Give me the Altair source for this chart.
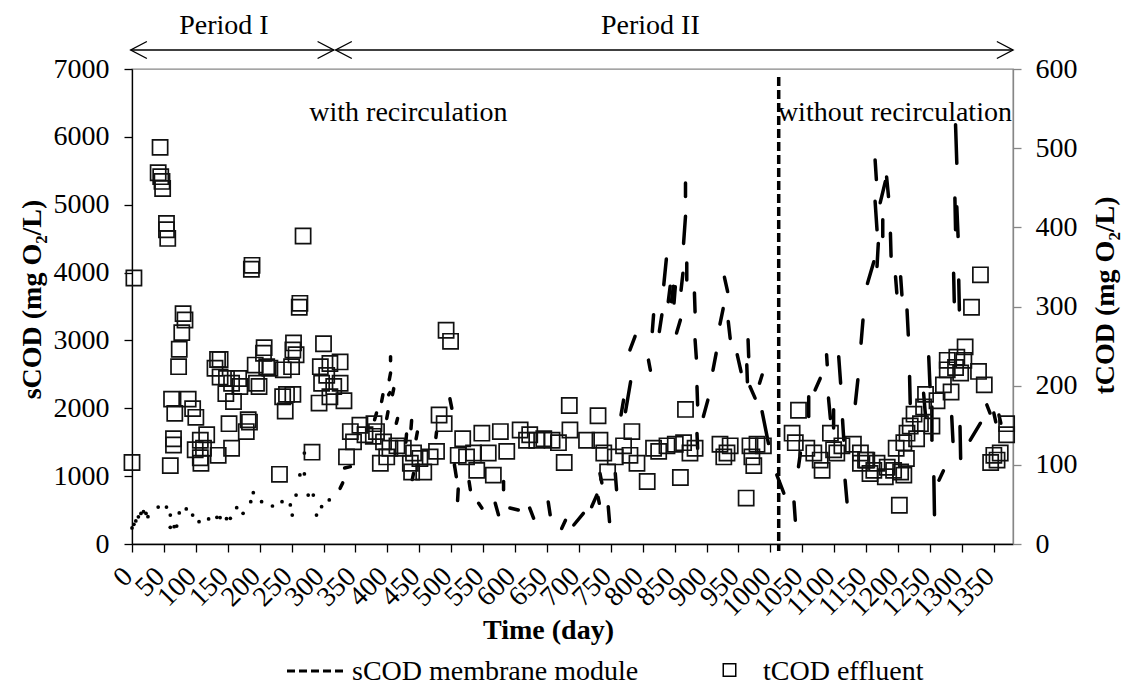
import altair as alt
import pandas as pd

FONT = "Liberation Serif"

# ---------------- axes ----------------
DAY_TICKS = list(range(0, 1351, 50))
SCOD_TICKS = list(range(0, 7001, 1000))
TCOD_TICKS = list(range(0, 601, 100))

# ---------------- tCOD effluent (right axis, squares) ----------------
TCOD_DAY = [3, 0, 44, 41, 45, 47, 48, 54, 54, 56, 268, 188, 187, 263, 262, 80, 83, 78, 74, 73,
            300, 207, 206, 253, 252, 257, 211, 193, 250, 237, 134, 138, 130, 138, 148, 167, 156, 169, 147, 159,
            195, 199, 216, 295, 310, 326, 305, 297, 316, 326, 310, 332, 293, 62, 88, 67, 95, 100, 236, 242,
            252, 240, 182, 184, 152, 179, 65, 65, 60, 107, 117, 112, 107, 99, 135, 156, 231, 282, 342, 357,
            347, 336, 365, 108, 492, 499, 481, 489, 379, 383, 378, 394, 404, 415, 389, 399, 425, 441, 436, 451,
            457, 477, 467, 438, 518, 511, 524, 535, 548, 577, 558, 566, 540, 587, 608, 623, 634, 645, 658, 668,
            686, 677, 685, 730, 712, 733, 739, 745, 757, 618, 783, 770, 780, 791, 807, 817, 825, 838, 851, 864,
            874, 882, 867, 859, 921, 937, 927, 932, 968, 979, 989, 971, 974, 962, 1044, 1034, 1039, 1057, 1068, 1078,
            1081, 1094, 1099, 1104, 1112, 1130, 1141, 1149, 1156, 1329, 1315, 1305, 1292, 1277, 1303, 1290, 1298, 1277, 1326, 1335,
            1271, 1283, 1261, 1243, 1240, 1225, 1219, 1235, 1253, 1214, 1229, 1209, 1197, 1213, 1350, 1355, 1345, 1360, 1370, 1370,
            1202, 1151, 1167, 1162, 1183, 1193, 1204, 1209, 1180, 1141]
TCOD_VAL = [336, 103, 501, 469, 464, 458, 449, 405, 397, 386, 389, 352, 347, 304, 299, 291, 283, 267, 246, 224,
            253, 248, 241, 254, 245, 239, 224, 226, 224, 220, 233, 233, 222, 211, 209, 209, 203, 199, 190, 180,
            203, 199, 222, 224, 228, 230, 213, 203, 199, 203, 186, 181, 178, 183, 183, 165, 171, 160, 186, 189,
            189, 168, 157, 154, 152, 142, 133, 125, 99, 131, 138, 121, 109, 119, 112, 121, 88, 116, 142, 150,
            129, 110, 138, 102, 270, 256, 163, 152, 152, 142, 136, 129, 121, 124, 102, 110, 121, 115, 102, 108,
            91, 117, 110, 91, 133, 112, 110, 115, 140, 142, 115, 87, 93, 117, 144, 138, 131, 133, 131, 128,
            144, 103, 175, 162, 131, 131, 115, 91, 110, 131, 142, 124, 112, 102, 79, 121, 117, 124, 126, 128,
            115, 121, 170, 84, 126, 124, 110, 115, 124, 126, 124, 110, 99, 58, 169, 140, 128, 121, 115, 106,
            93, 140, 119, 115, 124, 126, 115, 106, 89, 340, 299, 249, 236, 232, 232, 223, 216, 220, 218, 201,
            201, 192, 181, 189, 173, 164, 149, 152, 149, 140, 133, 128, 121, 108, 112, 106, 103, 115, 152, 138,
            49, 106, 102, 93, 97, 93, 91, 87, 85, 102]

# ---------------- sCOD membrane module (left axis, dashed line) ----------------
# early dotted part
DOT_DAY = [0, 3, 6, 10, 14, 18, 22, 25, 41, 54, 60, 60, 66, 70, 74, 85, 95, 105, 120, 133,
           138, 148, 154, 164, 174, 186, 190, 203, 220, 235, 248, 251, 257, 263, 270, 270, 276, 284, 289, 297, 309]
DOT_VAL = [236, 290, 340, 400, 450, 476, 450, 403, 545, 545, 427, 246, 255, 265, 457, 516, 427, 329, 369, 393,
           390, 373, 379, 535, 452, 624, 756, 624, 560, 624, 575, 427, 722, 1017, 1032, 1340, 722, 722, 427, 550, 649]
# visible dash pieces: start day, start value, end day, end value
SEG_DAY0 = [326, 333, 380, 391, 399, 402, 408, 403, 405, 414, 429, 437, 445, 439, 476, 498, 505, 511, 528, 543,
            569, 582, 592, 623, 652, 673, 692, 720, 733, 730, 746, 757, 766, 773, 780, 809, 815, 826, 833, 840,
            845, 849, 853, 860, 864, 867, 869, 881, 882, 885, 885, 895, 910, 921, 928, 934, 948, 965, 963, 968,
            983, 987, 1010, 1037, 1044, 1060, 1070, 1088, 1091, 1099, 1107, 1113, 1117, 1133, 1142, 1152, 1164, 1164, 1167, 1172,
            1176, 1182, 1188, 1196, 1204, 1214, 1218, 1240, 1248, 1253, 1256, 1264, 1284, 1297, 1313, 1287, 1295, 1289, 1290, 1292,
            1339, 1350, 1358]
SEG_VAL0 = [820, 1120, 1830, 2100, 1850, 2200, 2200, 2420, 2700, 1780, 1500, 1700, 1550, 950, 1570, 2140, 1170, 810, 920, 600,
            600, 920, 530, 530, 620, 230, 280, 550, 1040, 690, 550, 1040, 1900, 1950, 2860, 2710, 3130, 3130, 3820, 3570,
            3570, 3550, 3110, 3740, 4430, 5320, 4140, 3700, 3010, 2320, 1630, 1880, 2560, 3240, 3930, 3280, 2790, 3010, 2640, 2320,
            2370, 1950, 1020, 620, 1140, 2170, 2270, 2790, 2150, 1980, 2760, 1830, 940, 2070, 2960, 3840, 5050, 5660, 4090, 5030,
            4780, 5410, 4580, 3940, 3940, 3450, 2470, 2220, 2760, 2020, 990, 940, 1880, 1730, 1530, 3990, 3890, 5100, 6180, 4970,
            2050, 1930, 1900]
SEG_DAY1 = [330, 342, 383, 393, 401, 404, 410, 405, 405, 416, 430, 438, 447, 441, 477, 501, 508, 510, 530, 548,
            574, 582, 605, 629, 655, 679, 707, 728, 736, 732, 748, 759, 770, 781, 788, 812, 817, 830, 837, 843,
            848, 851, 859, 863, 867, 867, 869, 882, 884, 886, 886, 902, 915, 926, 933, 937, 954, 966, 964, 976,
            987, 997, 1021, 1039, 1047, 1060, 1078, 1089, 1094, 1099, 1110, 1115, 1120, 1137, 1145, 1162, 1167, 1166, 1169, 1180,
            1176, 1185, 1189, 1198, 1206, 1216, 1219, 1243, 1250, 1253, 1257, 1271, 1286, 1298, 1329, 1288, 1296, 1290, 1292, 1294,
            1344, 1353, 1361]
SEG_VAL1 = [900, 1140, 1930, 2200, 1950, 2230, 2290, 2520, 2760, 1850, 1620, 1820, 1650, 1040, 1650, 2000, 990, 640, 800, 530,
            430, 800, 500, 380, 430, 350, 450, 720, 900, 600, 330, 800, 2120, 2390, 3060, 2560, 3380, 3380, 4200, 3800,
            3800, 3790, 3300, 3990, 4830, 5120, 3890, 3420, 2740, 2050, 1410, 2120, 2810, 3470, 3720, 3030, 2540, 2760, 2390, 2150,
            2490, 1480, 750, 350, 1340, 1880, 2440, 2640, 1850, 1710, 2370, 1530, 620, 2420, 3300, 4160, 4630, 5370, 4430, 5340,
            4530, 5120, 4240, 3700, 3670, 3080, 2070, 1880, 2320, 1530, 430, 1080, 1510, 1260, 1780, 3570, 3450, 4630, 5610, 4530,
            1930, 1800, 1780]

SWITCH_DAY = [1013]
PERIOD_LABELS = ["Period I", "Period II"]
PERIOD_LABEL_DAY = [144, 812]
PERIOD_START = [-2, 319]
PERIOD_END = [316, 1380]
PHASE_LABELS = ["with recirculation", "without recirculation"]
PHASE_DAY = [433, 1195]
PHASE_SCOD = [6235, 6235]
LEGEND_LABELS = ["sCOD membrane module", "tCOD effluent"]

# ---------------- tables ----------------
tcod_df = pd.DataFrame({"day": TCOD_DAY, "tcod": TCOD_VAL})
dots_df = pd.DataFrame({"day": DOT_DAY, "scod": DOT_VAL})
rows = []
for i, (d0, v0, d1, v1) in enumerate(zip(SEG_DAY0, SEG_VAL0, SEG_DAY1, SEG_VAL1)):
    rows.append({"seg": i, "day": d0, "scod": v0, "k": 0})
    rows.append({"seg": i, "day": d1, "scod": v1, "k": 1})
seg_df = pd.DataFrame(rows)
phase_df = pd.DataFrame({"day": PHASE_DAY, "scod": PHASE_SCOD, "label": PHASE_LABELS})
switch_df = pd.DataFrame({"day": SWITCH_DAY})
period_df = pd.DataFrame({"day": PERIOD_START, "day2": PERIOD_END})
period_lbl_df = pd.DataFrame({"day": PERIOD_LABEL_DAY, "label": PERIOD_LABELS})
left_tip_df = pd.DataFrame({"day": PERIOD_START})
right_tip_df = pd.DataFrame({"day": PERIOD_END})

X = alt.X(
    "day:Q",
    scale=alt.Scale(domain=[0, 1380], nice=False, zero=False),
    axis=alt.Axis(
        values=DAY_TICKS, format="d", title="Time (day)", labelAngle=315, labelAlign="right",
        labelBaseline="middle", labelPadding=20, labelOffset=-4, labelOverlap=False,
        labelFlush=False, labelBound=False, titleX=416, titleY=86, titleBaseline="middle",
        titleAnchor="start", titleAlign="center",
    ),
)
X2 = alt.X2("day2:Q")

Y_LEFT = alt.Y(
    "scod:Q",
    scale=alt.Scale(domain=[0, 7000], nice=False, zero=True),
    axis=alt.Axis(
        orient="left", values=SCOD_TICKS, format="d", title="sCOD (mg O₂/L)", labelPadding=15,
        titleAngle=270, titleX=-100, titleY=230, titleBaseline="middle", titleAlign="center",
        titleAnchor="start",
    ),
)
Y_RIGHT = alt.Y(
    "tcod:Q",
    scale=alt.Scale(domain=[0, 600], nice=False, zero=True),
    axis=alt.Axis(
        orient="right", values=TCOD_TICKS, format="d", title="tCOD (mg O₂/L)", labelPadding=14,
        domainColor="#868686", tickColor="#868686",
        titleAngle=270, titleX=92, titleY=226, titleBaseline="middle", titleAlign="center",
        titleAnchor="start",
    ),
)

segs = alt.Chart(seg_df).mark_line(color="black", strokeWidth=3.5, strokeCap="round").encode(
    x=X, y=Y_LEFT, detail="seg:N", order="k:Q"
)
dots = alt.Chart(dots_df).mark_circle(color="black", size=14, opacity=1).encode(x=X, y=Y_LEFT)
phase_txt = alt.Chart(phase_df).mark_text(
    font=FONT, fontSize=28, color="black", align="center", baseline="alphabetic"
).encode(x=X, y=Y_LEFT, text="label:N")
switch = alt.Chart(switch_df).mark_rule(color="black", strokeWidth=3.5, strokeDash=[9, 4]).encode(
    x=X, y=alt.value(8), y2=alt.value(482)
)
left_layer = alt.layer(segs, dots, phase_txt, switch)

squares = alt.Chart(tcod_df).mark_point(
    shape="square", filled=False, color="#111111", size=230, strokeWidth=1.7, opacity=1
).encode(x=X, y=Y_RIGHT)

period_line = alt.Chart(period_df).mark_rule(color="black", strokeWidth=1.4).encode(
    x=X, x2=X2, y=alt.value(-19)
)
left_tips = alt.Chart(left_tip_df).mark_point(
    shape="M1.9,-1L0,0L1.9,1", filled=False, color="black", size=289, strokeWidth=1.4, opacity=1
).encode(x=X, y=alt.value(-19))
right_tips = alt.Chart(right_tip_df).mark_point(
    shape="M-1.9,-1L0,0L-1.9,1", filled=False, color="black", size=289, strokeWidth=1.4, opacity=1
).encode(x=X, y=alt.value(-19))
period_txt = alt.Chart(period_lbl_df).mark_text(
    font=FONT, fontSize=28, color="black", align="center", baseline="alphabetic"
).encode(x=X, y=alt.value(-35), text="label:N")

one = pd.DataFrame({"label": [LEGEND_LABELS[0]]})
two = pd.DataFrame({"label": [LEGEND_LABELS[1]]})
leg_line = alt.Chart(one).mark_rule(color="black", strokeWidth=3, strokeDash=[8, 4]).encode(
    x=alt.value(155), x2=alt.value(215), y=alt.value(602)
)
leg_txt1 = alt.Chart(one).mark_text(
    font=FONT, fontSize=28, color="black", align="left", baseline="alphabetic"
).encode(x=alt.value(220), y=alt.value(611), text="label:N")
leg_sq = alt.Chart(two).mark_point(
    shape="square", filled=False, color="black", size=156, strokeWidth=1.5, opacity=1
).encode(x=alt.value(597.5), y=alt.value(601))
leg_txt2 = alt.Chart(two).mark_text(
    font=FONT, fontSize=28, color="black", align="left", baseline="alphabetic"
).encode(x=alt.value(631), y=alt.value(611), text="label:N")

chart = alt.layer(
    left_layer, squares, period_line, left_tips, right_tips, period_txt,
    leg_line, leg_txt1, leg_sq, leg_txt2,
).resolve_scale(y="independent").properties(
    width=881, height=475,
    autosize=alt.AutoSizeParams(type="none"),
    padding={"left": 132, "top": 69, "right": 110, "bottom": 142},
).configure_view(
    stroke="#868686", strokeWidth=1.3
).configure_axis(
    labelFont=FONT, labelFontSize=28, labelColor="black",
    titleFont=FONT, titleFontSize=28, titleFontWeight="bold", titleColor="black",
    grid=False, domainColor="black", tickColor="black", domainWidth=1.3, tickWidth=1.3, tickSize=8,
)

chart.save("out.html", embed_options={"renderer": "svg", "actions": False})
